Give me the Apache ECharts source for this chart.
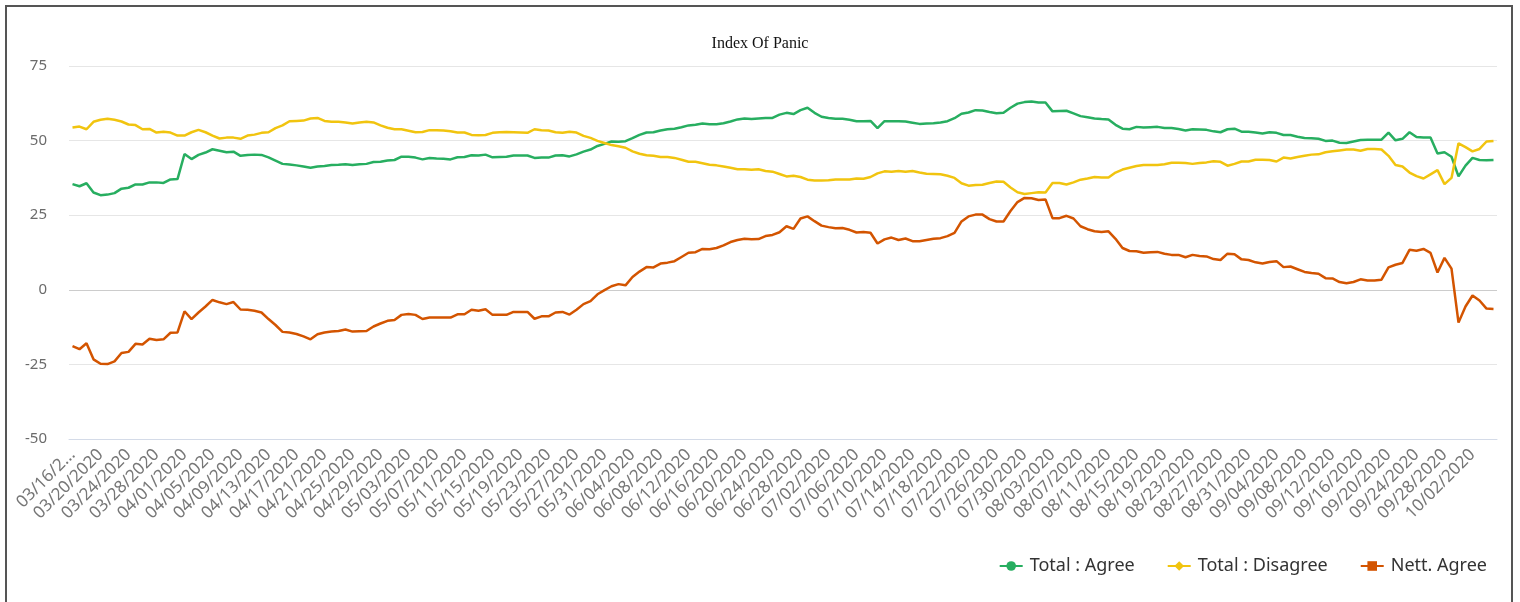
<!DOCTYPE html>
<html>
<head>
<meta charset="utf-8">
<title>Index Of Panic</title>
<script src="https://cdn.jsdelivr.net/npm/echarts@6/dist/echarts.min.js"></script>
<style>
  html, body { margin: 0; padding: 0; background: #fff; }
  #frame { position: absolute; left: 5px; top: 5px; width: 1508px; height: 640px; border: 2px solid #555; box-sizing: border-box; }
  #chart { position: absolute; left: 0; top: 0; width: 1520px; height: 602px; }
</style>
</head>
<body>
<div id="frame"></div>
<div id="chart"></div>
<script>
const startDate = '2020-03-16'

const agree = [
  35.4, 34.7, 35.7, 32.6, 31.7, 31.9, 32.4, 33.9, 34.2, 35.3,
  35.3, 36.0, 36.0, 35.8, 37.0, 37.1, 45.5, 43.8, 45.2, 46.0,
  47.1, 46.6, 46.1, 46.3, 44.9, 45.2, 45.3, 45.2, 44.4, 43.3,
  42.2, 42.0, 41.7, 41.3, 40.9, 41.3, 41.5, 41.8, 41.9, 42.1,
  41.8, 42.1, 42.2, 42.8, 42.9, 43.3, 43.5, 44.6, 44.6, 44.3,
  43.7, 44.2, 44.0, 43.9, 43.7, 44.4, 44.5, 45.1, 45.0, 45.3,
  44.4, 44.5, 44.6, 45.0, 45.0, 45.0, 44.2, 44.3, 44.3, 45.0,
  45.1, 44.7, 45.4, 46.3, 47.0, 48.2, 48.9, 49.7, 49.6, 49.8,
  50.8, 51.9, 52.7, 52.8, 53.4, 53.8, 54.0, 54.5, 55.1, 55.3,
  55.7, 55.5, 55.5, 55.8, 56.4, 57.1, 57.4, 57.2, 57.4, 57.6,
  57.6, 58.7, 59.3, 58.9, 60.2, 61.0, 59.3, 58.0, 57.6, 57.3,
  57.3, 57.0, 56.5, 56.5, 56.6, 54.2, 56.5, 56.5, 56.5, 56.4,
  56.0, 55.6, 55.7, 55.8, 56.1, 56.5, 57.5, 59.0, 59.4, 60.2,
  60.1, 59.6, 59.2, 59.3, 61.0, 62.4, 62.9, 63.1, 62.8, 62.8,
  59.8, 59.9, 60.0, 59.1, 58.2, 57.8, 57.4, 57.2, 57.1, 55.3,
  54.0, 53.8, 54.6, 54.4, 54.5, 54.6, 54.2, 54.2, 53.9, 53.4,
  53.8, 53.7, 53.6, 53.1, 52.8, 53.8, 54.0, 53.0, 53.0, 52.7,
  52.4, 52.8, 52.6, 51.9, 51.9, 51.3, 50.9, 50.8, 50.6, 49.9,
  50.0, 49.3, 49.2, 49.7, 50.2, 50.3, 50.3, 50.3, 52.7, 50.1,
  50.6, 52.8, 51.2, 51.0, 51.0, 45.7, 46.1, 44.6, 38.0, 41.6,
  44.2, 43.5, 43.4, 43.5
]

const disagree = [
  54.4, 54.7, 53.8, 56.3, 57.0, 57.3, 57.0, 56.4, 55.4, 55.2,
  53.8, 53.9, 52.7, 53.0, 52.7, 51.7, 51.7, 52.8, 53.6, 52.8,
  51.7, 50.7, 51.0, 51.0, 50.6, 51.7, 52.0, 52.6, 52.8, 54.2,
  55.1, 56.5, 56.6, 56.7, 57.4, 57.6, 56.6, 56.3, 56.3, 56.1,
  55.7, 56.1, 56.3, 56.1, 55.1, 54.3, 53.8, 53.8, 53.3, 52.8,
  52.9, 53.5, 53.5, 53.4, 53.1, 52.7, 52.7, 51.9, 51.8, 51.9,
  52.6, 52.8, 52.9, 52.8, 52.7, 52.6, 53.8, 53.5, 53.4, 52.8,
  52.6, 53.0, 52.7, 51.6, 50.9, 49.9, 49.2, 48.5, 48.1, 47.6,
  46.4, 45.6, 45.1, 44.9, 44.5, 44.5, 44.2, 43.6, 42.9, 42.9,
  42.4, 41.9, 41.7, 41.3, 40.9, 40.4, 40.4, 40.2, 40.4, 39.8,
  39.6, 38.8, 38.0, 38.2, 37.8, 36.9, 36.6, 36.6, 36.7, 37.0,
  37.0, 37.0, 37.3, 37.2, 37.8, 39.0, 39.7, 39.6, 39.8, 39.6,
  39.8, 39.3, 38.9, 38.8, 38.7, 38.2, 37.5, 35.7, 34.9, 35.1,
  35.2, 35.8, 36.3, 36.2, 34.3, 32.7, 32.1, 32.4, 32.7, 32.6,
  35.8, 35.8, 35.3, 36.0, 36.9, 37.3, 37.8, 37.6, 37.6, 39.3,
  40.3, 40.9, 41.5, 41.8, 41.8, 41.8, 42.1, 42.6, 42.6, 42.5,
  42.2, 42.5, 42.7, 43.1, 42.9, 41.6, 42.2, 43.0, 43.0, 43.6,
  43.6, 43.5, 43.0, 44.3, 44.0, 44.5, 44.9, 45.3, 45.4, 46.1,
  46.4, 46.7, 47.0, 47.0, 46.6, 47.2, 47.2, 47.0, 44.9, 41.8,
  41.3, 39.3, 38.1, 37.3, 38.7, 40.1, 35.4, 37.5, 49.1, 47.8,
  46.4, 47.2, 49.7, 49.9
]

const nettAgree = [
  -18.9, -19.9, -17.9, -23.3, -24.8, -24.9, -24.0, -21.2, -20.8, -18.1,
  -18.3, -16.4, -16.8, -16.6, -14.4, -14.3, -7.2, -9.8, -7.6, -5.6,
  -3.4, -4.2, -4.8, -4.1, -6.6, -6.7, -7.0, -7.6, -9.8, -11.8,
  -14.1, -14.3, -14.8, -15.6, -16.6, -14.9, -14.3, -14.0, -13.8, -13.3,
  -14.0, -13.9, -13.8, -12.3, -11.3, -10.4, -10.1, -8.4, -8.1, -8.4,
  -9.8, -9.3, -9.3, -9.3, -9.3, -8.2, -8.2, -6.7, -7.0, -6.5,
  -8.4, -8.4, -8.4, -7.4, -7.4, -7.4, -9.7, -8.9, -8.9, -7.6,
  -7.4, -8.3, -6.7, -4.8, -3.8, -1.5, -0.1, 1.2, 1.9, 1.5,
  4.3, 6.1, 7.6, 7.5, 8.8, 9.1, 9.6, 11.0, 12.4, 12.6,
  13.7, 13.6, 14.0, 14.9, 16.0, 16.7, 17.1, 16.9, 17.0, 18.0,
  18.4, 19.3, 21.3, 20.4, 23.9, 24.6, 23.0, 21.5, 21.0, 20.6,
  20.7, 20.1, 19.2, 19.4, 19.1, 15.5, 16.9, 17.5, 16.7, 17.2,
  16.3, 16.3, 16.7, 17.1, 17.3, 18.0, 19.1, 22.9, 24.6, 25.2,
  25.2, 23.7, 22.9, 22.9, 26.4, 29.4, 30.8, 30.7, 30.1, 30.3,
  24.0, 24.0, 24.8, 23.9, 21.3, 20.3, 19.6, 19.4, 19.6, 17.1,
  14.0, 13.0, 12.9, 12.4, 12.6, 12.7, 12.1, 11.7, 11.7, 10.9,
  11.7, 11.3, 11.2, 10.3, 10.0, 12.1, 11.9, 10.2, 10.0, 9.2,
  8.8, 9.3, 9.6, 7.6, 7.8, 6.9, 6.0, 5.6, 5.4, 3.9,
  3.8, 2.6, 2.2, 2.6, 3.5, 3.1, 3.1, 3.4, 7.5, 8.4,
  9.0, 13.4, 13.1, 13.7, 12.4, 5.8, 10.7, 7.1, -11.0, -5.6,
  -1.9, -3.6, -6.3, -6.4
]

const yTicks = { min: -50, max: 75, step: 25 }

// one category per day, mm/dd/yyyy
const dates = []
{
  const d = new Date(startDate + 'T00:00:00Z')
  for (let i = 0; i < agree.length; i++) {
    const mm = String(d.getUTCMonth() + 1).padStart(2, '0')
    const dd = String(d.getUTCDate()).padStart(2, '0')
    dates.push(mm + '/' + dd + '/' + d.getUTCFullYear())
    d.setUTCDate(d.getUTCDate() + 1)
  }
}

const chart = echarts.init(document.getElementById('chart'), null, { renderer: 'canvas' })

chart.setOption({
  animation: false,
  title: {
    text: 'Index Of Panic',
    left: 'center',
    top: 31,
    textStyle: { fontFamily: 'Liberation Serif', fontSize: 16, fontWeight: 'normal', color: '#111' }
  },
  grid: { left: 69, right: 23, top: 66, bottom: 163 },
  legend: {
    bottom: 22,
    right: 28,
    itemWidth: 23,
    itemHeight: 12,
    itemGap: 32,
    textStyle: { fontFamily: 'Noto Sans', fontSize: 18, color: '#333', padding: [0, 0, 0, 2] },
    data: ['Total : Agree', 'Total : Disagree', 'Nett. Agree']
  },
  xAxis: {
    type: 'category',
    data: dates,
    boundaryGap: true,
    axisLine: { onZero: false, lineStyle: { color: '#d4dbe8' } },
    axisTick: { show: false },
    axisLabel: {
      interval: 3,
      rotate: 45,
      fontFamily: 'Noto Sans',
      fontSize: 17,
      color: '#777',
      margin: 13,
      formatter: (v, i) => (i === 0 ? v.slice(0, 7) + '...' : v)
    }
  },
  yAxis: {
    type: 'value',
    min: yTicks.min,
    max: yTicks.max,
    interval: yTicks.step,
    axisLabel: { fontFamily: 'Noto Sans', fontSize: 15, color: '#6b6b6b', margin: 22 },
    splitLine: {
      lineStyle: { color: ['#d4dbe8', '#e6e6e6', '#cccccc', '#e6e6e6', '#e6e6e6', '#e6e6e6'] }
    }
  },
  series: [
    {
      name: 'Total : Agree',
      type: 'line',
      data: agree,
      symbol: 'circle',
      showSymbol: false,
      itemStyle: { color: '#27ae60' },
      lineStyle: { width: 2.5, color: '#27ae60' }
    },
    {
      name: 'Total : Disagree',
      type: 'line',
      data: disagree,
      symbol: 'diamond',
      showSymbol: false,
      itemStyle: { color: '#f1c40f' },
      lineStyle: { width: 2.5, color: '#f1c40f' }
    },
    {
      name: 'Nett. Agree',
      type: 'line',
      data: nettAgree,
      symbol: 'rect',
      showSymbol: false,
      itemStyle: { color: '#d35400' },
      lineStyle: { width: 2.5, color: '#d35400' }
    }
  ]
})
</script>
</body>
</html>
